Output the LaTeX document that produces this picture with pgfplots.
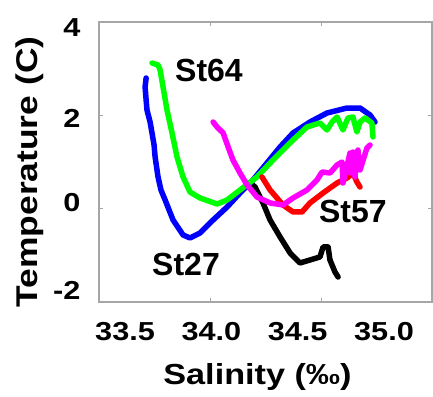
\documentclass[border=0pt]{standalone}
\usepackage{fontspec}
\setmainfont{Liberation Sans}
\newfontfamily\widefont[FakeStretch=1.18]{Liberation Sans}
\usepackage{pgfplots}
\pgfplotsset{compat=1.18}
\usetikzlibrary{calc}
\definecolor{mag}{RGB}{255,0,255}
\definecolor{grn}{RGB}{0,255,0}
\definecolor{blu}{RGB}{0,0,255}
\definecolor{rd}{RGB}{255,0,0}

\begin{document}
\begin{tikzpicture}
\begin{axis}[
  scale only axis, width=333pt, height=280pt,
  xmin=33.349, xmax=35.278, ymin=-2, ymax=4,
  axis line style={draw=gray!70, line width=1.5pt},
  xtick={33.992,34.635}, xticklabels={},
  extra x ticks={33.5,34.0,34.5,35.0},
  extra x tick labels={33.5,34.0,34.5,35.0},
  extra x tick style={major tick length=0pt},
  ytick={0,2}, yticklabels={},
  extra y ticks={-1.743,0.122,1.943,3.871},
  extra y tick labels={-2,0,2,4},
  extra y tick style={major tick length=0pt},
  tick style={draw=gray!70, line width=1pt},
  major tick length=4pt,
  tick align=inside,
  ticklabel style={font=\widefont\bfseries\fontsize{26}{26}\selectfont},
  xticklabel style={yshift=-17pt},
  yticklabel style={xshift=-15pt},
  every axis plot/.append style={line width=5.5pt, line join=round, line cap=round},
]
% black
\addplot[black] coordinates {
(34.224,0.550) (34.253,0.464) (34.299,0.122) (34.340,-0.243) (34.398,-0.607)
(34.456,-0.950) (34.513,-1.164) (34.571,-1.100) (34.629,-1.035) (34.647,-0.821)
(34.676,-0.821) (34.687,-1.100) (34.716,-1.357) (34.734,-1.464)
};
% St27 (blue)
\addplot[blu] coordinates {
(33.622,2.800) (33.616,2.607) (33.622,2.329) (33.627,2.114) (33.645,1.857)
(33.656,1.622) (33.668,1.364) (33.674,1.107) (33.691,0.679) (33.708,0.400)
(33.732,0.186) (33.778,-0.243) (33.836,-0.564) (33.876,-0.628) (33.934,-0.521)
(34.010,-0.243) (34.091,0.036) (34.166,0.336) (34.241,0.615) (34.322,0.979)
(34.398,1.322) (34.473,1.622) (34.571,1.857) (34.670,2.050) (34.786,2.157)
(34.861,2.157) (34.919,2.007) (34.948,1.857)
};
% St64 (green)
\addplot[grn] coordinates {
(33.656,3.121) (33.691,3.079) (33.703,2.971) (33.720,2.607) (33.743,2.114)
(33.772,1.622) (33.801,1.107) (33.836,0.679) (33.876,0.357) (33.934,0.229)
(34.033,0.100) (34.091,0.186) (34.166,0.400) (34.264,0.679) (34.357,1.043)
(34.415,1.257) (34.473,1.472) (34.554,1.750) (34.629,1.836) (34.670,1.686)
(34.699,1.857) (34.728,1.964) (34.762,1.686) (34.791,1.943) (34.820,1.964)
(34.843,1.643) (34.861,1.857) (34.890,1.943) (34.930,1.836) (34.936,1.536)
};
% St57 (red)
\addplot[rd] coordinates {
(34.293,0.679) (34.340,0.400) (34.415,0.079) (34.473,-0.071) (34.525,-0.071)
(34.571,0.122) (34.647,0.336) (34.728,0.550) (34.786,0.657) (34.820,0.764)
(34.843,0.572) (34.861,0.464)
};
% magenta
\addplot[mag] coordinates {
(34.010,1.857) (34.033,1.750) (34.068,1.622) (34.097,1.322) (34.125,1.043)
(34.166,0.764) (34.207,0.507) (34.264,0.250) (34.340,0.122) (34.415,0.079)
(34.473,0.229) (34.554,0.400) (34.612,0.615) (34.641,0.786) (34.687,0.764)
(34.728,0.936) (34.757,1.000) (34.762,0.550) (34.791,1.000) (34.803,1.193)
(34.803,0.764) (34.820,1.214) (34.832,0.679) (34.849,1.257) (34.861,0.829)
(34.901,1.300) (34.919,1.364)
};
\node[font=\bfseries\fontsize{32}{32}\selectfont] at (axis cs:33.986,2.971) {St64};
\node[font=\bfseries\fontsize{32}{32}\selectfont] at (axis cs:33.853,-1.186) {St27};
\node[font=\bfseries\fontsize{32}{32}\selectfont] at (axis cs:34.820,-0.071) {St57};
\end{axis}
\node[rotate=90, anchor=base, font=\widefont\bfseries\fontsize{30}{30}\selectfont]
  at ($(current axis.west)+(-61pt,-10pt)$) {Temperature (C)};
\node[anchor=north, inner sep=0pt, font=\widefont\bfseries\fontsize{29}{29}\selectfont]
  at ($(current axis.south)+(-8pt,-61pt)$) {Salinity (‰)};
\pgfresetboundingbox
\path[use as bounding box] ($(current axis.south west)+(-99pt,-95pt)$) rectangle ($(current axis.north east)+(1pt,22pt)$);
\end{tikzpicture}
\end{document}
